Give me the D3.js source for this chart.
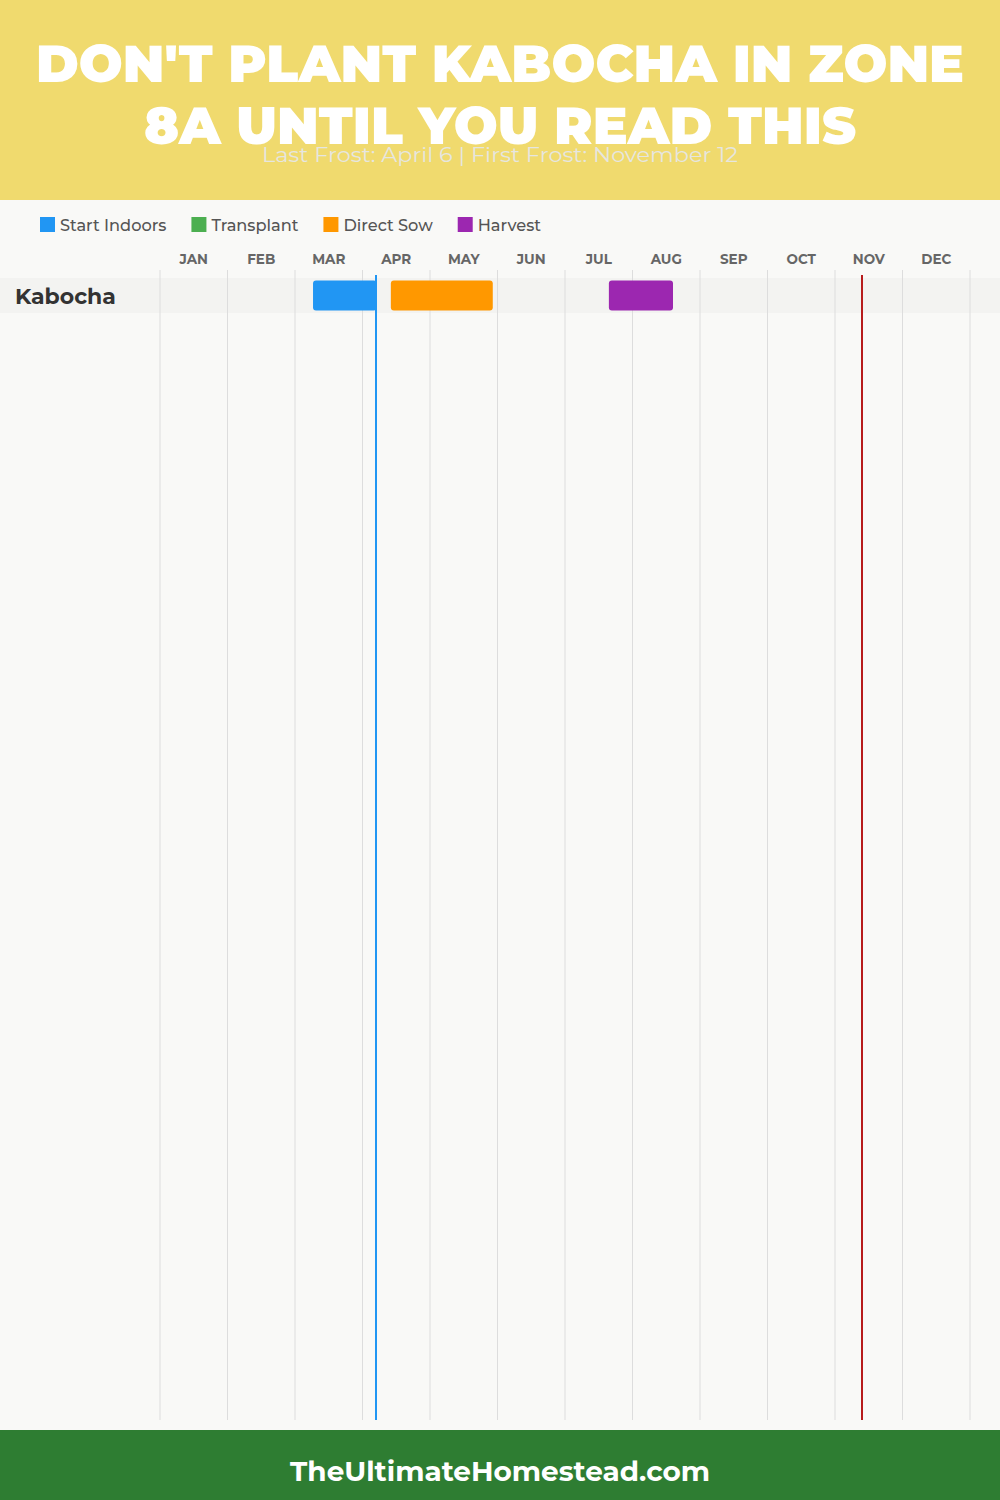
<!DOCTYPE html>
<html><head><meta charset="utf-8">
<script src="https://cdn.jsdelivr.net/npm/d3@7"></script>
<style>html,body{margin:0;padding:0;background:#f9f9f7;}svg{display:block;}</style>
</head><body>
<script>
const months = ["JAN","FEB","MAR","APR","MAY","JUN","JUL","AUG","SEP","OCT","NOV","DEC"];
const crops = ["Kabocha"];
const legendItems = ["Start Indoors","Transplant","Direct Sow","Harvest"];
const legendColors = ["#2196f3","#4caf50","#ff9800","#9c27b0"];
// tasks: [crop, type, start (month index + day/30), end]
const taskCrop = ["Kabocha","Kabocha","Kabocha"];
const taskType = ["Start Indoors","Direct Sow","Harvest"];
const taskStart = [2.267, 3.42, 6.65];
const taskEnd = [3.21, 4.93, 7.6];
const frostNames = ["Last Frost","First Frost"];
const frostValues = [3.2, 10.4];
const frostColors = ["#2196f3","#b71c1c"];
const titleLines = ["DON'T PLANT KABOCHA IN ZONE","8A UNTIL YOU READ THIS"];
const subtitle = "Last Frost: April 6 | First Frost: November 12";
const footer = "TheUltimateHomestead.com";

const W = 1000, H = 1500;
const svg = d3.select("body").append("svg").attr("width", W).attr("height", H);
const font = "Montserrat, 'Open Sans', Lato, sans-serif";

svg.append("rect").attr("width", W).attr("height", H).attr("fill", "#f9f9f7");
// header
svg.append("rect").attr("width", W).attr("height", 200).attr("fill", "#f0da6e");
const titleWidths = [928, 712];
titleLines.forEach((t, i) => {
  svg.append("text").attr("x", W/2).attr("y", 82 + i*62).attr("text-anchor", "middle")
    .attr("font-family", font).attr("font-weight", 900).attr("font-size", 52)
    .attr("fill", "#ffffff").attr("textLength", titleWidths[i]).attr("lengthAdjust", "spacingAndGlyphs")
    .text(t);
});
svg.append("text").attr("x", W/2).attr("y", 162).attr("text-anchor", "middle")
  .attr("font-family", font).attr("font-size", 21).attr("fill", "#e6e6e0")
  .attr("textLength", 476).attr("lengthAdjust", "spacingAndGlyphs").text(subtitle);

// footer
svg.append("rect").attr("y", 1430).attr("width", W).attr("height", 70).attr("fill", "#2e7d32");
svg.append("text").attr("x", W/2).attr("y", 1481).attr("text-anchor", "middle")
  .attr("font-family", font).attr("font-weight", 700).attr("font-size", 28)
  .attr("fill", "#ffffff").attr("textLength", 420).attr("lengthAdjust", "spacingAndGlyphs").text(footer);

// legend
let lx = 40;
legendItems.forEach((name, i) => {
  svg.append("rect").attr("x", lx).attr("y", 217).attr("width", 15).attr("height", 15).attr("fill", legendColors[i]);
  const t = svg.append("text").attr("x", lx + 20).attr("y", 231)
    .attr("font-family", font).attr("font-weight", 500).attr("font-size", 16.2).attr("fill", "#555").text(name);
  lx += 20 + t.node().getComputedTextLength() + 25;
});

// scales
const x = d3.scaleLinear().domain([0, 12]).range([160, 970]);
const yTop = 278, rowH = 35;
const y = d3.scaleBand().domain(crops).range([yTop, yTop + rowH * crops.length]);

// month labels
svg.append("g").selectAll("text").data(months).join("text")
  .attr("x", (d, i) => x(i + 0.5)).attr("y", 264).attr("text-anchor", "middle")
  .attr("font-family", font).attr("font-weight", 700).attr("font-size", 13.5).attr("fill", "#666").text(d => d);

// row bands
svg.append("g").selectAll("rect").data(crops).join("rect")
  .attr("x", 0).attr("y", d => y(d)).attr("width", W).attr("height", y.bandwidth()).attr("fill", "#f3f3f1");

// grid lines
svg.append("g").selectAll("line").data(d3.range(13)).join("line")
  .attr("x1", d => x(d)).attr("x2", d => x(d)).attr("y1", 270).attr("y2", 1420)
  .attr("stroke", "#dddddd").attr("stroke-width", 1);

// crop labels
svg.append("g").selectAll("text").data(crops).join("text")
  .attr("x", 15).attr("y", d => y(d) + y.bandwidth()/2 + 8)
  .attr("font-family", font).attr("font-weight", 700).attr("font-size", 22).attr("fill", "#333").text(d => d);

// bars
const colorOf = d3.scaleOrdinal().domain(legendItems).range(legendColors);
svg.append("g").selectAll("rect").data(taskCrop.map((c, i) => i)).join("rect")
  .attr("x", i => x(taskStart[i])).attr("width", i => x(taskEnd[i]) - x(taskStart[i]))
  .attr("y", i => y(taskCrop[i]) + 2.5).attr("height", y.bandwidth() - 5)
  .attr("rx", 3).attr("fill", i => colorOf(taskType[i]));

// frost lines
svg.append("g").selectAll("line").data(frostValues).join("line")
  .attr("x1", d => x(d)).attr("x2", d => x(d)).attr("y1", 275).attr("y2", 1420)
  .attr("stroke", (d, i) => frostColors[i]).attr("stroke-width", 2);
</script>
</body></html>
